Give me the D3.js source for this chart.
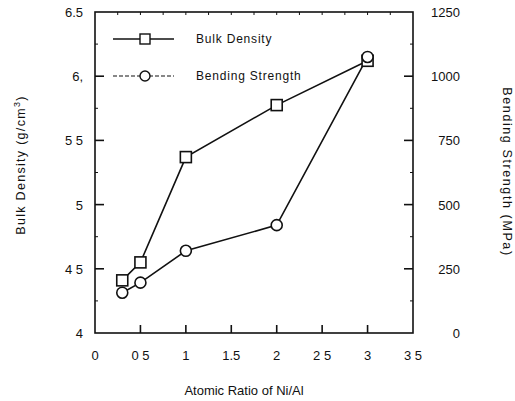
<!DOCTYPE html>
<html><head><meta charset="utf-8">
<script src="https://cdn.jsdelivr.net/npm/d3@7"></script>
<style>body{margin:0;background:#fff}svg{display:block}text{font-family:"Liberation Sans",Arial,sans-serif;fill:#111}</style>
</head><body><svg id="c" width="515" height="401"></svg>
<script>
const ratio = [0.3, 0.5, 1, 2, 3];
const bulkDensity = [4.41, 4.55, 5.37, 5.775, 6.12];
const bendingStrength = [157, 196, 320, 420, 1075];
const xTicks = [0, 0.5, 1, 1.5, 2, 2.5, 3, 3.5];
const xTickLabels = ["0", "0 5", "1", "1.5", "2", "2 5", "3", "3 5"];
const yLeftTicks = [4, 4.5, 5, 5.5, 6, 6.5];
const yLeftLabels = ["4", "4 5", "5", "5 5", "6,", "6.5"];
const yRightTicks = [0, 250, 500, 750, 1000, 1250];

const svg = d3.select("#c");
const L = 95, R = 413, T = 12, B = 333;
const x = d3.scaleLinear().domain([0, 3.5]).range([L, R]);
const yL = d3.scaleLinear().domain([4, 6.5]).range([B, T]);
const yR = d3.scaleLinear().domain([0, 1250]).range([B, T]);
const g = svg.append("g");

// frame
g.append("rect").attr("x", L).attr("y", T).attr("width", R - L).attr("height", B - T)
  .attr("fill", "none").attr("stroke", "#111").attr("stroke-width", 1.6);

// bottom axis ticks + labels
xTicks.forEach((t, i) => {
  if (t > 0 && t < 3.5) g.append("line").attr("x1", x(t)).attr("x2", x(t)).attr("y1", B).attr("y2", B - 8).attr("stroke", "#111").attr("stroke-width", 1.6);
  g.append("text").attr("x", x(t)).attr("y", 360).attr("text-anchor", "middle").attr("font-size", 13).text(xTickLabels[i]);
});
// top minor ticks
d3.range(0.25, 3.5, 0.25).forEach(t => {
  g.append("line").attr("x1", x(t)).attr("x2", x(t)).attr("y1", T).attr("y2", T + 3).attr("stroke", "#111").attr("stroke-width", 1);
});
// left axis
yLeftTicks.forEach((t, i) => {
  if (t > 4 && t < 6.5) g.append("line").attr("x1", L).attr("x2", L + 9).attr("y1", yL(t)).attr("y2", yL(t)).attr("stroke", "#111").attr("stroke-width", 1.6);
  g.append("text").attr("x", 83).attr("y", yL(t) + 5).attr("text-anchor", "end").attr("font-size", 13).text(yLeftLabels[i]);
});
d3.range(4.25, 6.5, 0.5).forEach(t => {
  g.append("line").attr("x1", L).attr("x2", L + 3).attr("y1", yL(t)).attr("y2", yL(t)).attr("stroke", "#111").attr("stroke-width", 1);
});
// right axis
yRightTicks.forEach(t => {
  if (t > 0 && t < 1250) g.append("line").attr("x1", R).attr("x2", R - 9).attr("y1", yR(t)).attr("y2", yR(t)).attr("stroke", "#111").attr("stroke-width", 1.6);
  g.append("text").attr("x", 460).attr("y", yR(t) + 5).attr("text-anchor", "end").attr("font-size", 13).text(t);
});
d3.range(125, 1250, 250).forEach(t => {
  g.append("line").attr("x1", R).attr("x2", R - 3).attr("y1", yR(t)).attr("y2", yR(t)).attr("stroke", "#111").attr("stroke-width", 1);
});

// axis titles
g.append("text").attr("x", 244).attr("y", 395).attr("text-anchor", "middle").attr("font-size", 13).text("Atomic Ratio of Ni/Al");
const lt = g.append("text").attr("transform", "translate(25,165) rotate(-90)").attr("text-anchor", "middle").attr("font-size", 12.5).attr("letter-spacing", 1.3);
lt.append("tspan").text("Bulk Density  (g/cm");
lt.append("tspan").attr("dy", -5).attr("font-size", 9).text("3");
lt.append("tspan").attr("dy", 5).text(")");
g.append("text").attr("transform", "translate(503,172) rotate(90)").attr("text-anchor", "middle").attr("font-size", 12.5).attr("letter-spacing", 1.6).text("Bending Strength (MPa)");

// data lines
const lineD = d3.line().x((d, i) => x(ratio[i])).y(d => yL(d));
const lineS = d3.line().x((d, i) => x(ratio[i])).y(d => yR(d));
g.append("path").attr("d", lineS(bendingStrength)).attr("fill", "none").attr("stroke", "#111").attr("stroke-width", 1.6);
g.append("path").attr("d", lineD(bulkDensity)).attr("fill", "none").attr("stroke", "#111").attr("stroke-width", 1.6);

const sq = 11;
g.selectAll(".sq").data(bulkDensity).enter().append("rect")
  .attr("x", (d, i) => x(ratio[i]) - sq / 2).attr("y", d => yL(d) - sq / 2)
  .attr("width", sq).attr("height", sq).attr("fill", "#fff").attr("stroke", "#111").attr("stroke-width", 1.6);
g.selectAll(".ci").data(bendingStrength).enter().append("circle")
  .attr("cx", (d, i) => x(ratio[i])).attr("cy", d => yR(d)).attr("r", 5.5)
  .attr("fill", "#fff").attr("stroke", "#111").attr("stroke-width", 1.6);

// legend
g.append("line").attr("x1", 113).attr("x2", 174).attr("y1", 39).attr("y2", 39).attr("stroke", "#111").attr("stroke-width", 1.4);
g.append("rect").attr("x", 145 - 5).attr("y", 39 - 5).attr("width", 10).attr("height", 10).attr("fill", "#fff").attr("stroke", "#111").attr("stroke-width", 1.4);
g.append("text").attr("x", 196).attr("y", 43).attr("font-size", 12).attr("letter-spacing", 0.8).text("Bulk Density");
g.append("line").attr("x1", 113).attr("x2", 174).attr("y1", 76).attr("y2", 76).attr("stroke", "#111").attr("stroke-width", 1.2).attr("stroke-dasharray", "4,2");
g.append("circle").attr("cx", 145).attr("cy", 76).attr("r", 5).attr("fill", "#fff").attr("stroke", "#111").attr("stroke-width", 1.4);
g.append("text").attr("x", 196).attr("y", 80).attr("font-size", 12).attr("letter-spacing", 0.8).text("Bending Strength");
</script></body></html>
